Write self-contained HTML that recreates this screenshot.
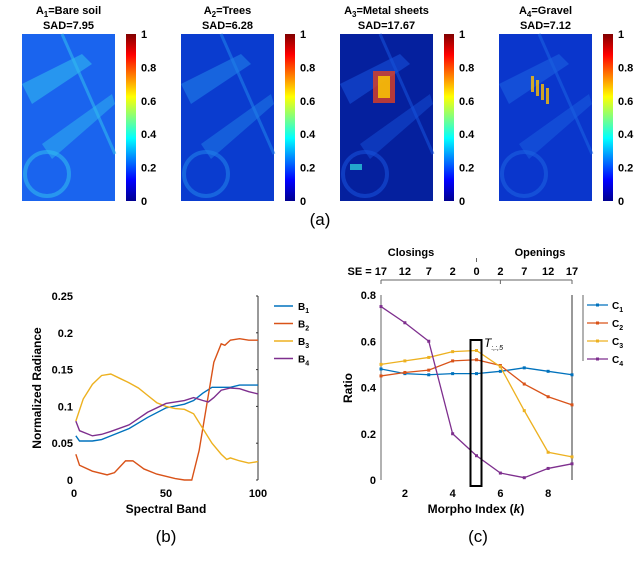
<!DOCTYPE html>
<html><head><meta charset="utf-8"><style>
body{margin:0;background:#fff;font-family:"Liberation Sans",Arial,sans-serif}
svg text{font-family:"Liberation Sans",Arial,sans-serif}
</style></head><body>
<svg id="fig" width="640" height="572" viewBox="0 0 640 572" xmlns="http://www.w3.org/2000/svg">
<defs>
<linearGradient id="jet" x1="0" y1="1" x2="0" y2="0">
<stop offset="0" stop-color="#00008f"/><stop offset="0.125" stop-color="#0000ff"/>
<stop offset="0.375" stop-color="#00ffff"/><stop offset="0.625" stop-color="#ffff00"/>
<stop offset="0.875" stop-color="#ff0000"/><stop offset="1" stop-color="#800000"/>
</linearGradient>
</defs>
<g id="topmaps"></g>
<text x="320" y="225" font-size="17" text-anchor="middle" font-family="Liberation Serif">(a)</text>
<g id="chartB"></g>
<text x="166" y="542" font-size="17" text-anchor="middle" font-family="Liberation Serif">(b)</text>
<g id="chartC"></g>
<text x="478" y="542" font-size="17" text-anchor="middle" font-family="Liberation Serif">(c)</text>
</svg>
<script>
const NS="http://www.w3.org/2000/svg";
function mk(p,t,a,txt){const e=document.createElementNS(NS,t);for(const k in a)e.setAttribute(k,a[k]);if(txt!==undefined)e.textContent=txt;p.appendChild(e);return e;}

// ---------- top maps ----------
const mapTitles=["Bare soil","Trees","Metal sheets","Gravel"];
const mapSAD=["7.95","6.28","17.67","7.12"];
const mapBase=["#1a64ee","#0a3ccf","#05209e","#0a36cc"];
const mapHi=["#30b8f0","#1f7fe8","#1550d8","#1a60e0"];
const topG=document.getElementById('topmaps');
for(let i=0;i<4;i++){
  const x0=22+i*159, y0=34, w=93, h=167;
  const g=mk(topG,'g',{});
  
  
  const t1=mk(g,'text',{x:x0+w/2,y:14,'font-size':11,'font-weight':'bold','text-anchor':'middle'});
  
  
  mk(t1,'tspan',{},'A');mk(t1,'tspan',{'font-size':8,dy:3},String(i+1));mk(t1,'tspan',{dy:-3},'='+mapTitles[i]);
  const t2=mk(g,'text',{x:x0+w/2,y:29,'font-size':11,'font-weight':'bold','text-anchor':'middle'},'SAD='+mapSAD[i]);
  
  
  const im=mk(g,'g',{});
  
  
  mk(im,'rect',{x:x0,y:y0,width:w,height:h,fill:mapBase[i]});
  mk(im,'path',{d:`M${x0} ${y0+50} L${x0+60} ${y0+20} L${x0+70} ${y0+30} L${x0+10} ${y0+70}Z`,fill:mapHi[i],opacity:0.6});
  mk(im,'path',{d:`M${x0+20} ${y0+110} L${x0+90} ${y0+60} L${x0+93} ${y0+70} L${x0+30} ${y0+125}Z`,fill:mapHi[i],opacity:0.5});
  mk(im,'circle',{cx:x0+25,cy:y0+140,r:22,fill:'none',stroke:mapHi[i],'stroke-width':4,opacity:0.6});
  mk(im,'path',{d:`M${x0+40} ${y0} L${x0+93} ${y0+120}`,stroke:mapHi[i],'stroke-width':3,opacity:0.6});
  if(i===2){
    mk(im,'rect',{x:x0+33,y:y0+37,width:22,height:32,fill:'#e04020',opacity:0.8});
    mk(im,'rect',{x:x0+38,y:y0+42,width:12,height:22,fill:'#ffd000',opacity:0.8});
    mk(im,'rect',{x:x0+10,y:y0+130,width:12,height:6,fill:'#30e0e0',opacity:0.7});
  }
  if(i===3){
    for(let k=0;k<4;k++){mk(im,'rect',{x:x0+32+k*5,y:y0+42+k*4,width:3,height:16,fill:'#ffc000',opacity:0.8});}
  }
  const cb=x0+104;
  const bar=mk(g,'rect',{x:cb,y:y0,width:10,height:h,fill:'url(#jet)'});
  
  
  ['0','0.2','0.4','0.6','0.8','1'].forEach((s,j)=>{
    const tt=mk(g,'text',{x:cb+15,y:y0+h-j*h/5+4,'font-size':11,'font-weight':'bold'},s);
    
    
  });
}

// ---------- chart B ----------
const bands1=[1,3,10,15,20,30,40,50,60,65,70,75,80,85,90,100];
const B1=[.06,.053,.053,.055,.06,.07,.085,.098,.103,.108,.118,.126,.126,.126,.129,.129];
const bands2=[1,3,10,18,22,28,32,38,45,55,60,64,68,72,76,80,82,85,90,95,100];
const B2=[.035,.02,.012,.007,.01,.026,.026,.015,.008,.002,0,0,.04,.1,.16,.185,.183,.19,.192,.19,.19];
const bands3=[1,5,10,15,20,25,30,35,40,45,50,55,60,65,70,75,80,83,85,90,95,100];
const B3=[.08,.11,.13,.142,.144,.138,.132,.125,.115,.105,.1,.097,.096,.09,.07,.05,.035,.028,.03,.026,.023,.025];
const bands4=[1,3,10,15,20,30,40,50,60,65,70,73,76,80,85,90,95,100];
const B4=[.08,.067,.06,.062,.066,.075,.092,.104,.108,.112,.108,.106,.112,.122,.125,.124,.12,.117];
const bTicksX=[0,50,100];
const bTicksY=[0,0.05,0.1,0.15,0.2,0.25];
const bTickLbl=["0","0.05","0.1","0.15","0.2","0.25"];
const colors=["#0072bd","#d95319","#edb120","#7e2f8e"];
const gB=document.getElementById('chartB');
const bx=v=>74+v*(258-74)/100, by=v=>480-v*(480-296)/0.25;
mk(gB,'line',{x1:258,y1:296,x2:258,y2:480,stroke:'#333','stroke-width':1});
bTicksX.forEach(v=>{const t=mk(gB,'text',{x:bx(v),y:497,'font-size':11,'font-weight':'bold','text-anchor':'middle'},String(v));
 });
bTicksY.forEach((v,i)=>{const t=mk(gB,'text',{x:73,y:by(v)+4,'font-size':11,'font-weight':'bold','text-anchor':'end'},bTickLbl[i]);
 
 mk(gB,'line',{x1:256,y1:by(v),x2:258,y2:by(v),stroke:'#333'});});
const xtB=mk(gB,'text',{x:166,y:513,'font-size':12,'font-weight':'bold','text-anchor':'middle'},'Spectral Band');

const ytB=mk(gB,'text',{x:0,y:0,'font-size':12,'font-weight':'bold','text-anchor':'middle',transform:'translate(41,388) rotate(-90)'},'Normalized Radiance');

[[bands1,B1],[bands2,B2],[bands3,B3],[bands4,B4]].forEach((s,i)=>{
  const p=mk(gB,'polyline',{points:s[0].map((b,j)=>bx(b)+','+by(s[1][j])).join(' '),fill:'none',stroke:colors[i],'stroke-width':1.4});
  
  const ly=306+i*17.5;
  const lg=mk(gB,'g',{});
  
  mk(lg,'line',{x1:274,y1:ly,x2:293,y2:ly,stroke:colors[i],'stroke-width':1.4});
  const t=mk(lg,'text',{x:298,y:ly+4,'font-size':10,'font-weight':'bold'});
  mk(t,'tspan',{},'B');mk(t,'tspan',{'font-size':7,dy:3},String(i+1));
});

// ---------- chart C ----------
const kIdx=[1,2,3,4,5,6,7,8,9];
const C1=[.48,.46,.455,.46,.46,.47,.485,.47,.455];
const C2=[.45,.465,.475,.515,.52,.495,.415,.36,.325];
const C3=[.5,.515,.53,.555,.56,.49,.3,.12,.1];
const C4=[.75,.68,.6,.2,.105,.03,.01,.05,.07];
const cTicksX=[2,4,6,8];
const cTicksY=[0,0.2,0.4,0.6,0.8];
const cTickLbl=["0","0.2","0.4","0.6","0.8"];
const seLabels=["SE = 17","12","7","2","0","2","7","12","17"];
const gC=document.getElementById('chartC');
const cx=v=>381+(v-1)*(572-381)/8, cy=v=>480-v*(480-295)/0.8;
mk(gC,'line',{x1:381,y1:295,x2:381,y2:480,stroke:'#666'});
mk(gC,'line',{x1:572,y1:295,x2:572,y2:480,stroke:'#333'});
mk(gC,'line',{x1:381,y1:280,x2:572,y2:280,stroke:'#666'});
mk(gC,'line',{x1:381,y1:280,x2:381,y2:284,stroke:'#666'});
mk(gC,'line',{x1:572,y1:280,x2:572,y2:284,stroke:'#666'});
mk(gC,'line',{x1:cx(6),y1:280,x2:cx(6),y2:284,stroke:'#666'});
mk(gC,'line',{x1:cx(5),y1:258,x2:cx(5),y2:262,stroke:'#666'});
const cl=mk(gC,'text',{x:411,y:256,'font-size':11,'font-weight':'bold','text-anchor':'middle'},'Closings');

const op=mk(gC,'text',{x:540,y:256,'font-size':11,'font-weight':'bold','text-anchor':'middle'},'Openings');

seLabels.forEach((s,i)=>{const t=mk(gC,'text',{x:i===0?cx(1)+6:cx(i+1),y:275,'font-size':11,'font-weight':'bold','text-anchor':i===0?'end':'middle'},s);
 });
cTicksX.forEach(v=>{const t=mk(gC,'text',{x:cx(v),y:497,'font-size':11,'font-weight':'bold','text-anchor':'middle'},String(v));
 });
cTicksY.forEach((v,i)=>{const t=mk(gC,'text',{x:376,y:cy(v)+4,'font-size':11,'font-weight':'bold','text-anchor':'end'},cTickLbl[i]);
 });
const xtC=mk(gC,'text',{x:476,y:513,'font-size':12,'font-weight':'bold','text-anchor':'middle'});

mk(xtC,'tspan',{},'Morpho Index (');mk(xtC,'tspan',{'font-style':'italic'},'k');mk(xtC,'tspan',{},')');
const ytC=mk(gC,'text',{x:0,y:0,'font-size':12,'font-weight':'bold','text-anchor':'middle',transform:'translate(352,388) rotate(-90)'},'Ratio');

[C1,C2,C3,C4].forEach((s,i)=>{
  const p=mk(gC,'polyline',{points:kIdx.map((k,j)=>cx(k)+','+cy(s[j])).join(' '),fill:'none',stroke:colors[i],'stroke-width':1.3});
  
  kIdx.forEach((k,j)=>{const m=mk(gC,'rect',{x:cx(k)-1.5,y:cy(s[j])-1.5,width:3,height:3,fill:colors[i]});
    });
  const ly=305+i*18;
  const lg=mk(gC,'g',{});
  
  mk(lg,'line',{x1:587,y1:ly,x2:608,y2:ly,stroke:colors[i],'stroke-width':1.3});
  mk(lg,'rect',{x:596,y:ly-1.5,width:3,height:3,fill:colors[i]});
  const t=mk(lg,'text',{x:612,y:ly+4,'font-size':10,'font-weight':'bold'});
  mk(t,'tspan',{},'C');mk(t,'tspan',{'font-size':7,dy:3},String(i+1));
});
mk(gC,'line',{x1:583,y1:295,x2:583,y2:361,stroke:'#666'});
const box=mk(gC,'rect',{x:cx(5)-6,y:340,width:11,height:146,fill:'none',stroke:'#000','stroke-width':2});

const tl=mk(gC,'text',{x:484,y:347,'font-size':12,'font-style':'italic'});

mk(tl,'tspan',{},'T');mk(tl,'tspan',{'font-size':7,dy:3},':,:,5');
</script>
</body></html>
